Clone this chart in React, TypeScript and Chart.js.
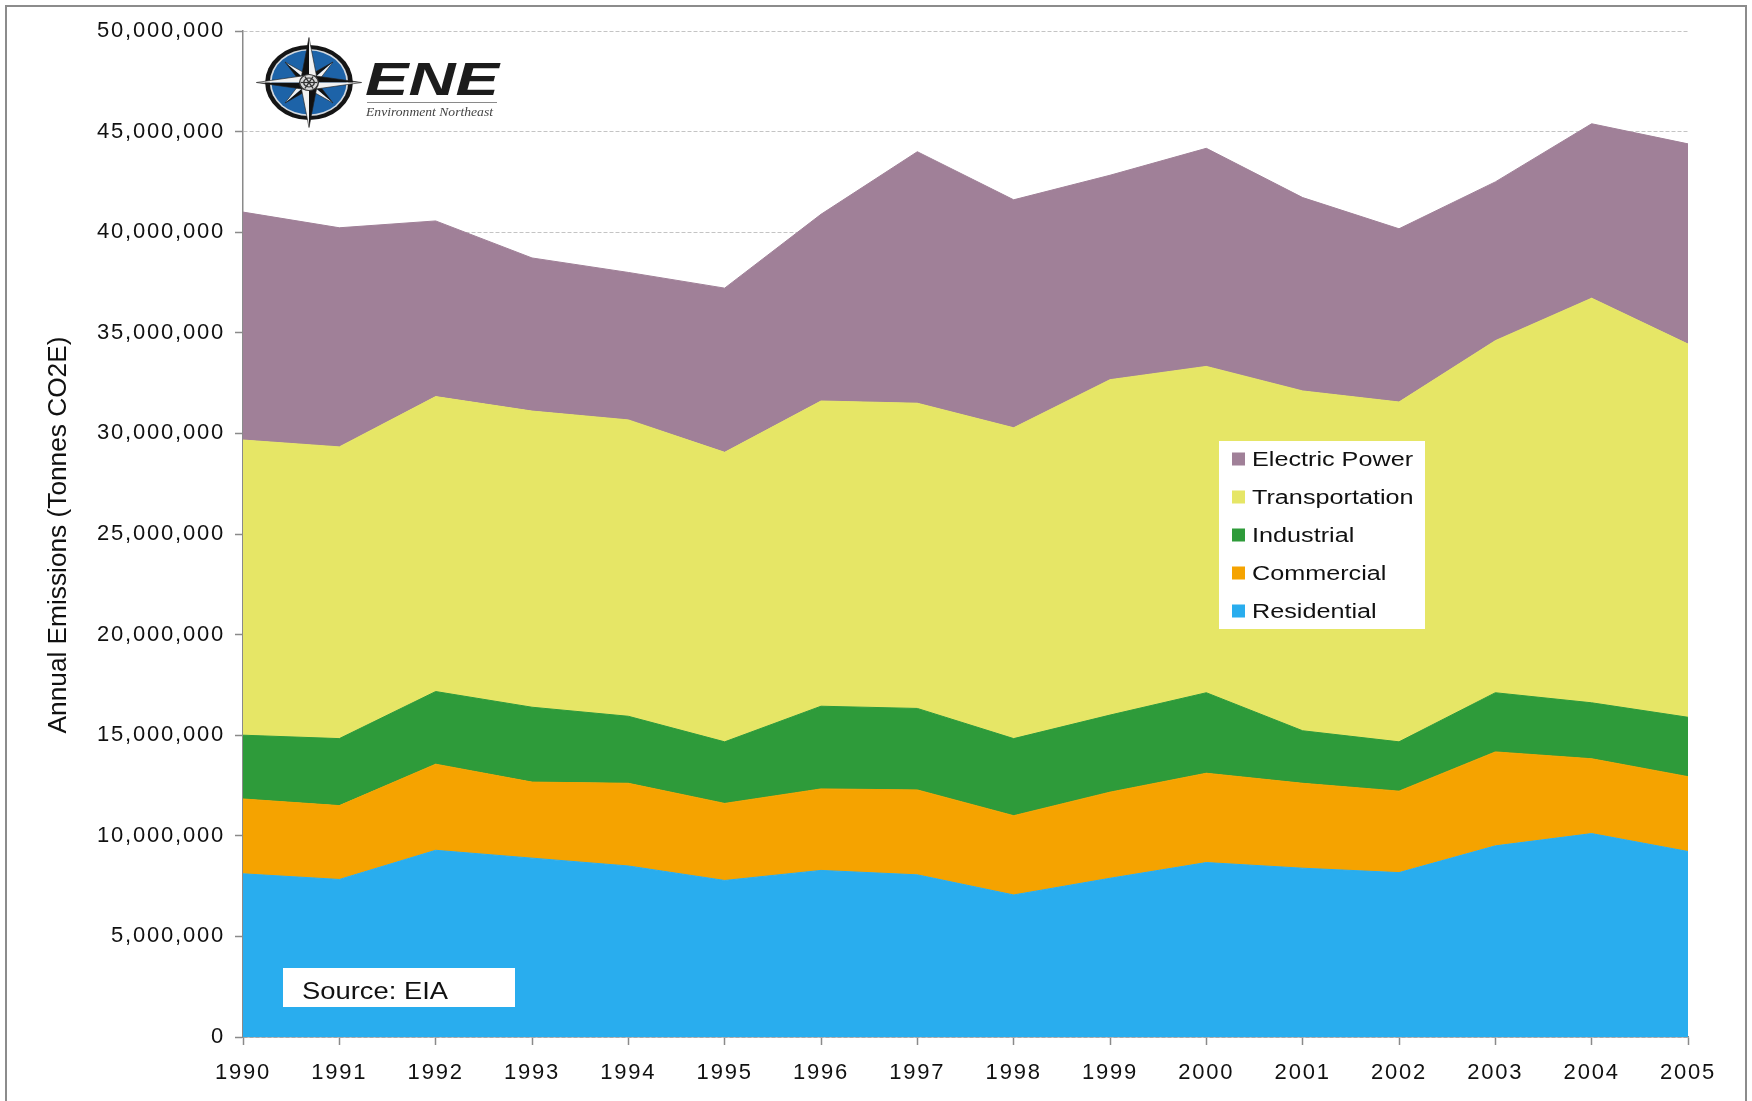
import React, { useEffect, useRef } from 'react';
import { Chart, registerables } from 'chart.js';

Chart.register(...registerables);

const years = ['1990', '1991', '1992', '1993', '1994', '1995', '1996', '1997', '1998', '1999', '2000', '2001', '2002', '2003', '2004', '2005'];

// Values in million tonnes CO2E per sector (stacked in the chart)
const residential = [8.11, 7.83, 9.28, 8.89, 8.5, 7.78, 8.28, 8.06, 7.06, 7.89, 8.67, 8.39, 8.17, 9.5, 10.11, 9.22];
const commercial = [3.72, 3.67, 4.28, 3.78, 4.11, 3.83, 4.05, 4.22, 3.94, 4.28, 4.44, 4.22, 4.05, 4.67, 3.72, 3.72];
const industrial = [3.17, 3.33, 3.61, 3.72, 3.33, 3.06, 4.11, 4.05, 3.83, 3.83, 4.0, 2.61, 2.45, 2.94, 2.78, 2.95];
const transportation = [14.67, 14.5, 14.66, 14.72, 14.73, 14.39, 15.17, 15.17, 15.45, 16.67, 16.22, 16.89, 16.89, 17.5, 20.11, 18.55];
const electricPower = [11.33, 10.89, 8.73, 7.61, 7.33, 8.16, 9.28, 12.5, 11.33, 10.16, 10.84, 9.61, 8.61, 7.89, 8.67, 9.95];

const seriesNames = ['Residential', 'Commercial', 'Industrial', 'Transportation', 'Electric Power'];
const seriesColors = ['#29ADEE', '#F5A300', '#2E9B3A', '#E6E666', '#A08098'];
const legendOrder = ['Electric Power', 'Transportation', 'Industrial', 'Commercial', 'Residential'];

const yAxisTitle = 'Annual Emissions (Tonnes CO2E)';
const sourceText = 'Source: EIA';
const logoWord = 'ENE';
const logoTagline = 'Environment Northeast';
const yMax = 50000000;
const yStep = 5000000;

const SANS = '"Liberation Sans", Arial, sans-serif';

function fitText(ctx: CanvasRenderingContext2D, text: string, x: number, y: number, targetWidth: number) {
  const w = ctx.measureText(text).width;
  ctx.save();
  ctx.translate(x, y);
  ctx.scale(targetWidth / w, 1);
  ctx.fillText(text, 0, 0);
  ctx.restore();
}

function drawLogo(ctx: CanvasRenderingContext2D) {
  const cx = 309, cy = 82.5;
  ctx.save();
  ctx.letterSpacing = '0px';
  ctx.translate(cx, cy);
  ctx.scale(1.17, 1);
  ctx.beginPath();
  ctx.arc(0, 0, 37.5, 0, Math.PI * 2);
  ctx.fillStyle = '#151515';
  ctx.fill();
  ctx.beginPath();
  ctx.arc(0, 0, 33.5, 0, Math.PI * 2);
  ctx.fillStyle = '#d4dae0';
  ctx.fill();
  ctx.beginPath();
  ctx.arc(0, 0, 32, 0, Math.PI * 2);
  ctx.fillStyle = '#1D63A8';
  ctx.fill();
  const drawPoint = (ang: number, len: number, hw: number) => {
    const tx = Math.cos(ang) * len, ty = Math.sin(ang) * len;
    const lx = Math.cos(ang - Math.PI / 2) * hw, ly = Math.sin(ang - Math.PI / 2) * hw;
    const rx = Math.cos(ang + Math.PI / 2) * hw, ry = Math.sin(ang + Math.PI / 2) * hw;
    ctx.beginPath();
    ctx.moveTo(0, 0); ctx.lineTo(lx, ly); ctx.lineTo(tx, ty); ctx.closePath();
    ctx.fillStyle = '#111';
    ctx.fill();
    ctx.beginPath();
    ctx.moveTo(0, 0); ctx.lineTo(rx, ry); ctx.lineTo(tx, ty); ctx.closePath();
    ctx.fillStyle = '#f2f2f2';
    ctx.fill();
    ctx.strokeStyle = '#222';
    ctx.lineWidth = 0.6;
    ctx.beginPath();
    ctx.moveTo(lx, ly); ctx.lineTo(tx, ty); ctx.lineTo(rx, ry);
    ctx.stroke();
  };
  for (let i = 0; i < 4; i++) drawPoint(Math.PI / 4 + (i * Math.PI) / 2, 29, 6);
  for (let i = 0; i < 4; i++) drawPoint(-Math.PI / 2 + (i * Math.PI) / 2, 45, 7.5);
  ctx.beginPath();
  ctx.arc(0, 0, 8, 0, Math.PI * 2);
  ctx.fillStyle = '#d9d9d9';
  ctx.fill();
  ctx.strokeStyle = '#333';
  ctx.lineWidth = 1.2;
  ctx.stroke();
  ctx.beginPath();
  ctx.arc(0, 0, 4.5, 0, Math.PI * 2);
  ctx.stroke();
  for (let i = 0; i < 6; i++) {
    const a = (i * Math.PI) / 3;
    ctx.beginPath();
    ctx.moveTo(0, 0);
    ctx.lineTo(Math.cos(a) * 7, Math.sin(a) * 7);
    ctx.stroke();
  }
  ctx.restore();

  ctx.save();
  ctx.letterSpacing = '0px';
  ctx.fillStyle = '#1c1c1c';
  ctx.font = `italic bold 46px ${SANS}`;
  ctx.textBaseline = 'alphabetic';
  ctx.textAlign = 'left';
  fitText(ctx, logoWord, 365, 95, 134);
  ctx.strokeStyle = '#8a8a8a';
  ctx.lineWidth = 1;
  ctx.beginPath();
  ctx.moveTo(367, 102.5);
  ctx.lineTo(497, 102.5);
  ctx.stroke();
  ctx.fillStyle = '#444';
  ctx.font = 'italic 13px "Liberation Serif", serif';
  fitText(ctx, logoTagline, 366, 115.5, 127);
  ctx.restore();
}

const spacingPlugin = {
  id: 'spacing',
  beforeDraw(chart: any) {
    chart.ctx.letterSpacing = '1.8px';
  },
};

const decorPlugin = {
  id: 'decor',
  afterDraw(chart: any) {
    const ctx: CanvasRenderingContext2D = chart.ctx;
    ctx.save();
    ctx.letterSpacing = '0px';
    // y axis title
    ctx.save();
    ctx.translate(59, 535);
    ctx.rotate(-Math.PI / 2);
    ctx.font = `25px ${SANS}`;
    ctx.fillStyle = '#111';
    ctx.textAlign = 'center';
    ctx.textBaseline = 'middle';
    ctx.scale(1.05, 1);
    ctx.fillText(yAxisTitle, 0, 0);
    ctx.restore();

    drawLogo(ctx);

    // legend box
    ctx.fillStyle = '#ffffff';
    ctx.fillRect(1219, 441, 206, 188);
    legendOrder.forEach((name, i) => {
      const idx = seriesNames.indexOf(name);
      const cy = 459 + i * 38;
      ctx.fillStyle = seriesColors[idx];
      ctx.fillRect(1232, cy - 6.5, 13, 13);
      ctx.save();
      ctx.translate(1252, cy + 1);
      ctx.scale(1.26, 1);
      ctx.font = `20px ${SANS}`;
      ctx.fillStyle = '#111';
      ctx.textAlign = 'left';
      ctx.textBaseline = 'middle';
      ctx.fillText(name, 0, 0);
      ctx.restore();
    });

    // source box
    ctx.fillStyle = '#ffffff';
    ctx.fillRect(283, 968, 232, 39);
    ctx.save();
    ctx.font = `24px ${SANS}`;
    ctx.fillStyle = '#111';
    ctx.textAlign = 'left';
    ctx.textBaseline = 'alphabetic';
    fitText(ctx, sourceText, 302, 999, 146);
    ctx.restore();
    ctx.restore();
  },
};

export default function App() {
  const canvasRef = useRef<HTMLCanvasElement | null>(null);

  useEffect(() => {
    document.body.style.margin = '0';
    const canvas = canvasRef.current;
    if (!canvas) return;
    const sets = [residential, commercial, industrial, transportation, electricPower];
    const chart = new Chart(canvas, {
      type: 'line',
      data: {
        labels: years,
        datasets: sets.map((vals, i) => ({
          label: seriesNames[i],
          data: vals.map((v) => v * 1000000),
          backgroundColor: seriesColors[i],
          borderColor: seriesColors[i],
          borderWidth: 1,
          pointRadius: 0,
          tension: 0,
          fill: i === 0 ? 'origin' : '-1',
        })),
      },
      options: {
        responsive: false,
        devicePixelRatio: 1,
        animation: false,
        events: [],
        layout: { padding: { left: 0, top: 31, right: 64, bottom: 0 } },
        plugins: {
          legend: { display: false },
          tooltip: { enabled: false },
        },
        scales: {
          x: {
            type: 'category',
            offset: false,
            afterFit: (scale: any) => {
              scale.height = 64;
            },
            grid: {
              drawOnChartArea: false,
              drawTicks: true,
              tickLength: 8,
              tickColor: '#8a8a8a',
              tickWidth: 1.5,
            },
            border: { color: '#8a8a8a', width: 1.5 },
            ticks: {
              autoSkip: false,
              maxRotation: 0,
              padding: 15,
              color: '#111',
              font: { family: SANS, size: 22 },
            },
          },
          y: {
            stacked: true,
            min: 0,
            max: yMax,
            afterFit: (scale: any) => {
              scale.width = 243;
            },
            grid: {
              color: '#c4c4c4',
              lineWidth: 1,
              drawTicks: true,
              tickLength: 8,
              tickColor: '#8a8a8a',
              tickWidth: 1.5,
              tickBorderDash: [],
            },
            border: { color: '#8a8a8a', width: 1.5, dash: [4, 2] },
            ticks: {
              stepSize: yStep,
              padding: 10,
              color: '#111',
              font: { family: SANS, size: 22 },
              callback: (v: any) => Number(v).toLocaleString('en-US'),
            },
          },
        },
      },
      plugins: [spacingPlugin, decorPlugin],
    } as any);
    return () => chart.destroy();
  }, []);

  return (
    <div style={{ position: 'relative', width: 1752, height: 1101, overflow: 'hidden', background: '#fff' }}>
      <div
        style={{
          position: 'absolute',
          left: 5,
          top: 5,
          width: 1738,
          height: 1200,
          border: '2px solid #8c8c8c',
        }}
      />
      <canvas ref={canvasRef} width={1752} height={1101} style={{ position: 'absolute', left: 0, top: 0, display: 'block' }} />
    </div>
  );
}
